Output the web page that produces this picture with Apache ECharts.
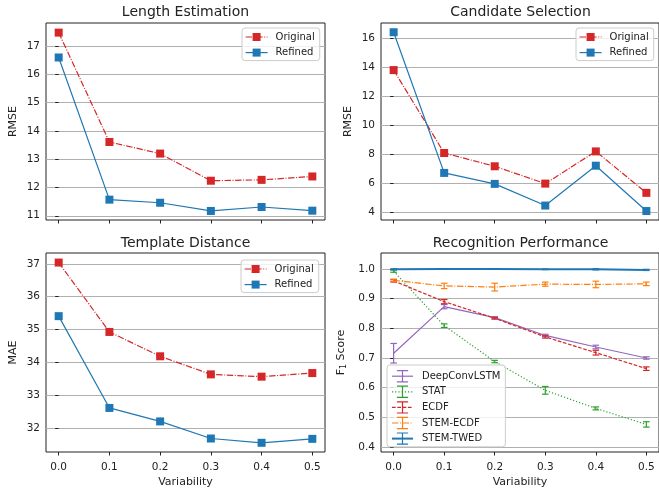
<!DOCTYPE html>
<html><head><meta charset="utf-8">
<script src="https://cdn.jsdelivr.net/npm/echarts@6/dist/echarts.min.js"></script>
<style>html,body{margin:0;padding:0;background:#fff}#c{width:659px;height:489px}</style>
</head><body><div id="c"></div>
<script>
// ---- data ----
const variability = [0, 0.1, 0.2, 0.3, 0.4, 0.5];
const xTickLabels = ['0.0', '0.1', '0.2', '0.3', '0.4', '0.5'];

const lengthOriginal = [17.48, 13.61, 13.20, 12.24, 12.27, 12.39];
const lengthRefined  = [16.60, 11.57, 11.46, 11.17, 11.31, 11.18];
const lengthTicks = [11, 12, 13, 14, 15, 16, 17];

const candOriginal = [13.81, 8.07, 7.15, 5.95, 8.18, 5.31];
const candRefined  = [16.43, 6.69, 5.93, 4.43, 7.19, 4.05];
const candTicks = [4, 6, 8, 10, 12, 14, 16];

const templOriginal = [37.04, 34.93, 34.19, 33.64, 33.57, 33.68];
const templRefined  = [35.41, 32.62, 32.21, 31.69, 31.56, 31.68];
const templTicks = [32, 33, 34, 35, 36, 37];

const deepMean = [0.716, 0.873, 0.836, 0.776, 0.737, 0.700];
const deepErr  = [0.033, 0.007, 0.003, 0.004, 0.006, 0.004];
const statMean = [0.993, 0.809, 0.688, 0.591, 0.530, 0.476];
const statErr  = [0.004, 0.006, 0.004, 0.013, 0.005, 0.009];
const ecdfMean = [0.960, 0.890, 0.834, 0.771, 0.718, 0.664];
const ecdfErr  = [0.004, 0.007, 0.003, 0.004, 0.008, 0.006];
const stemEcdfMean = [0.962, 0.943, 0.939, 0.949, 0.948, 0.950];
const stemEcdfErr  = [0.004, 0.009, 0.013, 0.007, 0.011, 0.006];
const stemTwedMean = [0.999, 1.000, 1.000, 0.999, 0.999, 0.997];
const stemTwedErr  = [0.002, 0.001, 0.001, 0.001, 0.002, 0.002];
const f1Ticks = [0.4, 0.5, 0.6, 0.7, 0.8, 0.9, 1.0];

// ---- style ----
const FONT = 'DejaVu Sans';
const INK = '#222222';
const RED = '#d62728', BLUE = '#1f77b4', PURPLE = '#9467bd', GREEN = '#2ca02c', ORANGE = '#ff7f0e';
const DASHDOT = [6.4, 1.6, 1, 1.6];
const DASHED = [3.7, 1.6];
const DOTTED = [1.2, 2];
const ERRSYM = 'path://M0,0H6M3,0V12M0,12H6';

const zip = (xs, ys) => xs.map((x, i) => [x, ys[i]]);

function xAxisFor(gi, showLabels) {
  return {
    type: 'value', gridIndex: gi, min: -0.025, max: 0.525,
    axisLine: { show: false },
    axisTick: { show: true, length: 3.5, lineStyle: { color: INK, width: 1 }, customValues: variability },
    axisLabel: { show: showLabels, customValues: variability, margin: 10, fontSize: 10.5, color: INK, fontFamily: FONT,
      formatter: v => xTickLabels[Math.round(v * 10)] },
    splitLine: { show: false },
    name: showLabels ? 'Variability' : '', nameLocation: 'middle', nameGap: 25,
    nameTextStyle: { fontSize: 11, color: INK, fontFamily: FONT }
  };
}
function yAxisFor(gi, min, max, ticks, name, fmt, gap) {
  return {
    type: 'value', gridIndex: gi, min: min, max: max,
    axisLine: { show: false },
    axisTick: { show: true, length: 3.5, lineStyle: { color: INK, width: 1 }, customValues: ticks },
    axisLabel: { customValues: ticks, margin: 6, fontSize: 10.5, color: INK, fontFamily: FONT, formatter: fmt },
    splitLine: { show: true, lineStyle: { color: '#b0b0b0', width: 1 } },
    name: name, nameLocation: 'middle', nameGap: gap,
    nameTextStyle: { fontSize: 11, color: INK, fontFamily: FONT,
      rich: { a: { fontSize: 11, color: INK, fontFamily: FONT }, b: { fontSize: 8, color: INK, fontFamily: FONT, padding: [6, 0, 0, 0] } } }
  };
}
function pairSeries(gi, orig, ref) {
  return [
    { type: 'line', name: 'Original', xAxisIndex: gi, yAxisIndex: gi, data: zip(variability, orig),
      symbol: 'rect', symbolSize: 8, lineStyle: { color: RED, width: 1.2, type: DASHDOT }, itemStyle: { color: RED }, z: 2 },
    { type: 'line', name: 'Refined', xAxisIndex: gi, yAxisIndex: gi, data: zip(variability, ref),
      symbol: 'rect', symbolSize: 8, lineStyle: { color: BLUE, width: 1.2 }, itemStyle: { color: BLUE }, z: 2 }
  ];
}
function perfSeries(name, color, means, errs, dash, width) {
  const line = { type: 'line', name: name, xAxisIndex: 3, yAxisIndex: 3, data: zip(variability, means),
    symbol: ERRSYM, showSymbol: false, lineStyle: { color: color, width: width, type: dash }, itemStyle: { color: color }, z: 2 };
  const err = { type: 'custom', name: name + ' error', xAxisIndex: 3, yAxisIndex: 3, silent: true, z: 3,
    data: variability.map((x, i) => [x, means[i] - errs[i], means[i] + errs[i]]),
    encode: { x: 0, y: [1, 2] },
    renderItem: (params, api) => {
      const x = api.value(0);
      const p1 = api.coord([x, api.value(2)]);
      const p2 = api.coord([x, api.value(1)]);
      const w = 3.3;
      const st = { stroke: color, lineWidth: 1.2 };
      return { type: 'group', children: [
        { type: 'line', shape: { x1: p1[0], y1: p1[1], x2: p2[0], y2: p2[1] }, style: st },
        { type: 'line', shape: { x1: p1[0] - w, y1: p1[1], x2: p1[0] + w, y2: p1[1] }, style: st },
        { type: 'line', shape: { x1: p2[0] - w, y1: p2[1], x2: p2[0] + w, y2: p2[1] }, style: st }
      ] };
    } };
  return [line, err];
}
function pairLegend(left, top) {
  return { left: left, top: top, orient: 'vertical', data: ['Original', 'Refined'], selectedMode: false,
    itemWidth: 22, itemHeight: 10, itemGap: 5.6, padding: [4, 5, 3, 3],
    backgroundColor: 'rgba(255,255,255,0.8)', borderColor: '#cccccc', borderWidth: 1, borderRadius: 3,
    itemStyle: { borderWidth: 0 }, lineStyle: { width: 1.2 },
    textStyle: { fontSize: 10, color: INK, fontFamily: FONT, padding: [0, 0, 0, 3] } };
}
function errLegendItem(name, color, lw) {
  return { name: name, itemStyle: { borderColor: color, borderWidth: 1.2, color: 'rgba(0,0,0,0)' }, lineStyle: { width: lw } };
}
function title(text, x, y) {
  return { type: 'text', x: x, y: y, style: { text: text, fill: INK, font: '14px "DejaVu Sans"', textAlign: 'center', textVerticalAlign: 'middle' } };
}

const option = {
  animation: false,
  backgroundColor: '#fff',
  grid: [
    { left: 46, top: 23, width: 279, height: 197, show: true, borderColor: INK, borderWidth: 1 },
    { left: 381, top: 23, width: 279, height: 197, show: true, borderColor: INK, borderWidth: 1 },
    { left: 46, top: 253, width: 279, height: 199, show: true, borderColor: INK, borderWidth: 1 },
    { left: 381, top: 253, width: 279, height: 199, show: true, borderColor: INK, borderWidth: 1 }
  ],
  xAxis: [xAxisFor(0, false), xAxisFor(1, false), xAxisFor(2, true), xAxisFor(3, true)],
  yAxis: [
    yAxisFor(0, 10.85, 17.82, lengthTicks, 'RMSE', v => String(v), 27),
    yAxisFor(1, 3.43, 17.07, candTicks, 'RMSE', v => String(v), 27),
    yAxisFor(2, 31.28, 37.33, templTicks, 'MAE', v => String(v), 27),
    yAxisFor(3, 0.383, 1.054, f1Ticks, '{a|F}{b|1}{a| Score}', v => v.toFixed(1), 33)
  ],
  legend: [
    pairLegend(242, 28),
    pairLegend(576, 28),
    pairLegend(241, 260),
    { left: 387, top: 365, orient: 'vertical', selectedMode: false,
      data: [errLegendItem('DeepConvLSTM', PURPLE, 1.2), errLegendItem('STAT', GREEN, 1.2), errLegendItem('ECDF', RED, 1.2),
             errLegendItem('STEM-ECDF', ORANGE, 1.2), errLegendItem('STEM-TWED', BLUE, 2)],
      itemWidth: 21, itemHeight: 14, itemGap: 3.2, padding: [5, 5, 2, 4],
      backgroundColor: 'rgba(255,255,255,0.8)', borderColor: '#cccccc', borderWidth: 1, borderRadius: 3,
      lineStyle: { width: 1.2 },
      textStyle: { fontSize: 10, color: INK, fontFamily: FONT, padding: [0, 0, 0, 4] } }
  ],
  graphic: [
    title('Length Estimation', 185.5, 12),
    title('Candidate Selection', 520.5, 12),
    title('Template Distance', 185.5, 243),
    title('Recognition Performance', 520.5, 243)
  ],
  series: [].concat(
    pairSeries(0, lengthOriginal, lengthRefined),
    pairSeries(1, candOriginal, candRefined),
    pairSeries(2, templOriginal, templRefined),
    perfSeries('DeepConvLSTM', PURPLE, deepMean, deepErr, 'solid', 1.2),
    perfSeries('STAT', GREEN, statMean, statErr, DOTTED, 1.2),
    perfSeries('ECDF', RED, ecdfMean, ecdfErr, DASHED, 1.2),
    perfSeries('STEM-ECDF', ORANGE, stemEcdfMean, stemEcdfErr, DASHDOT, 1.2),
    perfSeries('STEM-TWED', BLUE, stemTwedMean, stemTwedErr, 'solid', 2)
  )
};
const chart = echarts.init(document.getElementById('c'), null, { renderer: 'canvas' });
chart.setOption(option);
</script></body></html>
